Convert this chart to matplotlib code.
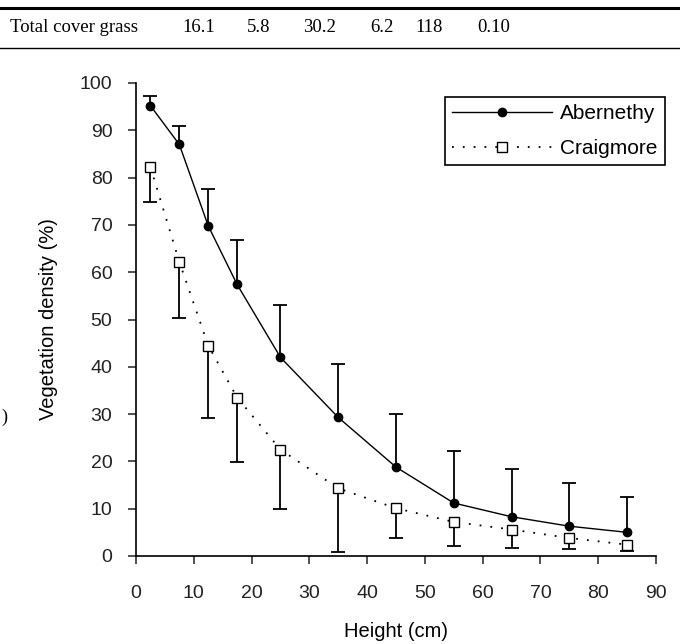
import matplotlib.pyplot as plt
import numpy as np

# table row above the chart
row_label = "Total cover grass"
row_values = ["16.1", "5.8", "30.2", "6.2", "118", "0.10"]

# chart data
height = [2.5, 7.5, 12.5, 17.5, 25, 35, 45, 55, 65, 75, 85]
abernethy = [95.2, 87.0, 69.8, 57.4, 42.0, 29.3, 18.8, 11.2, 8.3, 6.3, 5.0]
abernethy_up = [97.3, 90.9, 77.5, 66.8, 53.0, 40.5, 30.1, 22.2, 18.3, 15.5, 12.4]
craigmore = [82.2, 62.2, 44.5, 33.5, 22.5, 14.3, 10.1, 7.2, 5.6, 3.8, 2.4]
craigmore_lo = [74.8, 50.4, 29.2, 19.8, 10.0, 0.9, 3.7, 2.1, 1.6, 1.4, 1.0]

plt.rcParams['font.family'] = ['Liberation Sans', 'DejaVu Sans']

fig = plt.figure(figsize=(6.8, 6.44), dpi=100)
W, H = 680, 644

# --- table fragment at the top ---
fig.add_artist(plt.Line2D([0, 1], [1 - 8 / H, 1 - 8 / H], transform=fig.transFigure,
                          color='black', lw=2.2))
fig.add_artist(plt.Line2D([0, 1], [1 - 48 / H, 1 - 48 / H], transform=fig.transFigure,
                          color='black', lw=1.0))
serif = ['Liberation Serif', 'DejaVu Serif']
fig.text(10 / W, 1 - 28 / H, row_label, family=serif, fontsize=13.5, va='center', ha='left')
col_x = [199, 259, 320, 382, 429, 494]
for cx, v in zip(col_x, row_values):
    fig.text(cx / W, 1 - 28 / H, v, family=serif, fontsize=13.5, va='center', ha='center')
# clipped fragment at the left edge
fig.text(1 / W, 1 - 417 / H, ")", family=serif, fontsize=13, va='center', ha='left')

# --- chart ---
ax = fig.add_axes([136 / W, 1 - 556 / H, (656 - 136) / W, (556 - 83) / H])

x = np.array(height)
ab = np.array(abernethy)
cr = np.array(craigmore)

# one-sided error bars
ax.vlines(x, ab, abernethy_up, color='black', lw=1.3, zorder=2)
ax.plot(x, abernethy_up, ls='none', marker='_', ms=10, mew=1.3, color='black', zorder=2)
ax.vlines(x, craigmore_lo, cr, color='black', lw=1.3, zorder=2)
ax.plot(x, craigmore_lo, ls='none', marker='_', ms=10, mew=1.3, color='black', zorder=2)

ax.plot(x, ab, color='black', lw=1.0, marker='o', ms=6, mfc='black', mec='black',
        label='Abernethy', zorder=3)
ax.plot(x, cr, color='black', lw=1.3, ls=(0, (1, 5)), marker='s', ms=7, mfc='white',
        mec='black', mew=1.0, label='Craigmore', zorder=3)

ax.set_xlim(0, 90)
ax.set_ylim(0, 100)
ax.set_xticks(range(0, 91, 10))
ax.set_yticks(range(0, 101, 10))
for s in ['top', 'right']:
    ax.spines[s].set_visible(False)
for s in ['left', 'bottom']:
    ax.spines[s].set_linewidth(1.2)
ax.tick_params(direction='out', length=6, width=1.1, labelsize=14, colors='#222222')
ax.tick_params(axis='x', pad=15)
ax.tick_params(axis='y', pad=11)

ax.set_xlabel("Height (cm)", fontsize=14.5, labelpad=14)
ax.set_ylabel("Vegetation density (%)", fontsize=14.5, labelpad=16)

leg = ax.legend(loc='upper right', bbox_to_anchor=(665 / W, 1 - 97 / H),
                bbox_transform=fig.transFigure, fontsize=15, fancybox=False,
                edgecolor='black', framealpha=1, borderaxespad=0, handlelength=4.8,
                labelspacing=0.75, borderpad=0.35, handletextpad=0.4)
leg.get_frame().set_linewidth(1.2)

fig.savefig("out.png", dpi=100)
